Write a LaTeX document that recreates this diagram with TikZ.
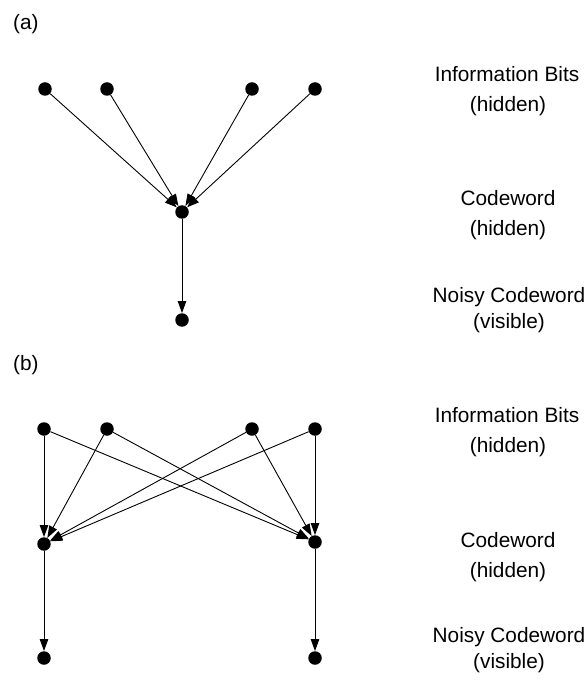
\documentclass[tikz,border=0pt]{standalone}
\usepackage{fontspec}
\setmainfont{Liberation Sans}
\usetikzlibrary{arrows.meta}
\begin{document}
\begin{tikzpicture}[x=1pt,y=-1pt,
  dot/.style={circle,fill=black,draw=none,minimum size=13.5pt,inner sep=0pt},
  edge/.style={draw=black,line width=0.9pt,-{Triangle[length=12pt,width=8.5pt]}},
  lbl/.style={anchor=base,inner sep=0pt,font=\fontsize{20.8}{24}\selectfont},
  tag/.style={anchor=base west,inner sep=0pt,font=\fontsize{20.8}{24}\selectfont}]
\useasboundingbox (0,0) rectangle (585,684);

% ---------- (a) single codeword ----------
\node[tag] (taga) at (13,30) {(a)};
\node[dot] (a1) at (45,89) {};
\node[dot] (a2) at (107,89) {};
\node[dot] (a3) at (252,89) {};
\node[dot] (a4) at (315,89) {};
\node[dot] (ac) at (182,212) {};
\node[dot] (an) at (182,320) {};
\foreach \s in {a1,a2,a3,a4} \draw[edge] (\s) -- (ac);
\draw[edge] (ac) -- (an);

\node[lbl] (ai1) at (507,82) {Information Bits};
\node[lbl] (ai2) at (508,112) {(hidden)};
\node[lbl] (ac1) at (508,206) {Codeword};
\node[lbl] (ac2) at (508,236) {(hidden)};
\node[lbl] (an1) at (509,302) {Noisy Codeword};
\node[lbl] (an2) at (509,328) {(visible)};

% ---------- (b) two codewords ----------
\node[tag] (tagb) at (13,370) {(b)};
\node[dot] (b1) at (44,429) {};
\node[dot] (b2) at (107,429) {};
\node[dot] (b3) at (252,429) {};
\node[dot] (b4) at (315,429) {};
\node[dot] (bc1) at (44,544) {};
\node[dot] (bc2) at (315,542) {};
\node[dot] (bn1) at (44,658) {};
\node[dot] (bn2) at (315,658) {};
\foreach \s in {b1,b2,b3,b4} {
  \draw[edge] (\s) -- (bc1);
  \draw[edge] (\s) -- (bc2);
}
\draw[edge] (bc1) -- (bn1);
\draw[edge] (bc2) -- (bn2);

\node[lbl] (bi1) at (507,422) {Information Bits};
\node[lbl] (bi2) at (508,452) {(hidden)};
\node[lbl] (bcw1) at (508,547) {Codeword};
\node[lbl] (bcw2) at (508,577) {(hidden)};
\node[lbl] (bn1t) at (509,642) {Noisy Codeword};
\node[lbl] (bn2t) at (509,668) {(visible)};
\end{tikzpicture}
\end{document}
